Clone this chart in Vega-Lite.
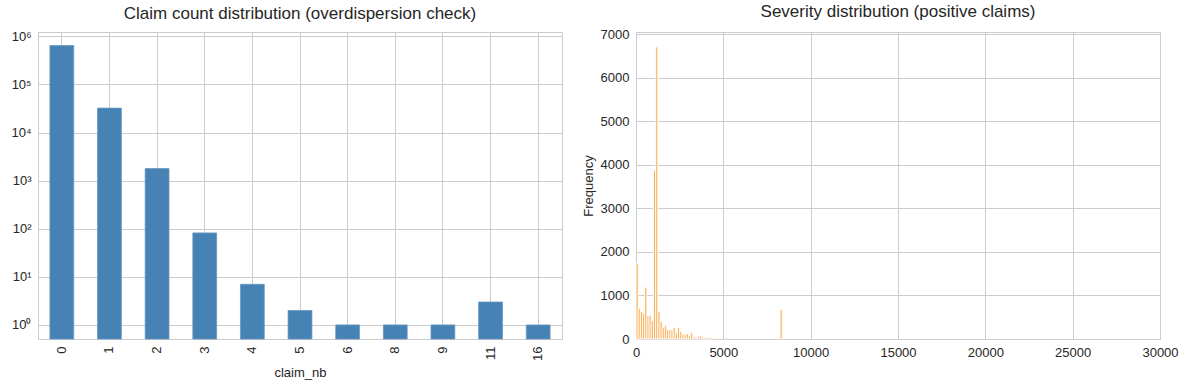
{
  "$schema": "https://vega.github.io/schema/vega-lite/v6.json",
  "background": "white",
  "padding": {"left": 10, "top": 2, "right": 5, "bottom": 5},
  "config": {
    "font": "Liberation Sans",
    "view": {"stroke": "#cccccc", "strokeWidth": 1},
    "axis": {
      "domain": false,
      "ticks": false,
      "grid": true,
      "gridColor": "#cccccc",
      "gridWidth": 1,
      "labelFont": "Liberation Sans",
      "labelFontSize": 13,
      "labelColor": "#262626",
      "titleFont": "Liberation Sans",
      "titleFontSize": 13,
      "titleFontWeight": "normal",
      "titleColor": "#262626",
      "labelPadding": 7,
      "labelFlush": false,
      "labelOverlap": false
    },
    "title": {"font": "Liberation Sans", "fontSize": 17, "fontWeight": "normal", "color": "#262626", "offset": 7},
    "concat": {"spacing": 18}
  },
  "datasets": {
    "counts": [
      {"claim_nb": 0, "count": 643953},
      {"claim_nb": 1, "count": 32178},
      {"claim_nb": 2, "count": 1784},
      {"claim_nb": 3, "count": 82},
      {"claim_nb": 4, "count": 7},
      {"claim_nb": 5, "count": 2},
      {"claim_nb": 6, "count": 1},
      {"claim_nb": 8, "count": 1},
      {"claim_nb": 9, "count": 1},
      {"claim_nb": 11, "count": 3},
      {"claim_nb": 16, "count": 1}
    ],
    "sev": [
      {"bin_start": 0, "bin_end": 125, "count": 1735},
      {"bin_start": 125, "bin_end": 250, "count": 706},
      {"bin_start": 250, "bin_end": 375, "count": 630},
      {"bin_start": 375, "bin_end": 500, "count": 583},
      {"bin_start": 500, "bin_end": 625, "count": 1190},
      {"bin_start": 625, "bin_end": 750, "count": 537},
      {"bin_start": 750, "bin_end": 875, "count": 537},
      {"bin_start": 875, "bin_end": 1000, "count": 422},
      {"bin_start": 1000, "bin_end": 1125, "count": 3880},
      {"bin_start": 1125, "bin_end": 1250, "count": 6705},
      {"bin_start": 1250, "bin_end": 1375, "count": 630},
      {"bin_start": 1375, "bin_end": 1500, "count": 400},
      {"bin_start": 1500, "bin_end": 1625, "count": 261},
      {"bin_start": 1625, "bin_end": 1750, "count": 307},
      {"bin_start": 1750, "bin_end": 1875, "count": 215},
      {"bin_start": 1875, "bin_end": 2000, "count": 215},
      {"bin_start": 2000, "bin_end": 2125, "count": 215},
      {"bin_start": 2125, "bin_end": 2250, "count": 261},
      {"bin_start": 2250, "bin_end": 2375, "count": 146},
      {"bin_start": 2375, "bin_end": 2500, "count": 261},
      {"bin_start": 2500, "bin_end": 2625, "count": 169},
      {"bin_start": 2625, "bin_end": 2750, "count": 100},
      {"bin_start": 2750, "bin_end": 2875, "count": 100},
      {"bin_start": 2875, "bin_end": 3000, "count": 123},
      {"bin_start": 3000, "bin_end": 3125, "count": 77},
      {"bin_start": 3125, "bin_end": 3250, "count": 146},
      {"bin_start": 3250, "bin_end": 3375, "count": 54},
      {"bin_start": 3375, "bin_end": 3500, "count": 40},
      {"bin_start": 3500, "bin_end": 3625, "count": 54},
      {"bin_start": 3625, "bin_end": 3750, "count": 77},
      {"bin_start": 3750, "bin_end": 3875, "count": 40},
      {"bin_start": 3875, "bin_end": 4000, "count": 31},
      {"bin_start": 4000, "bin_end": 4125, "count": 31},
      {"bin_start": 4125, "bin_end": 4250, "count": 31},
      {"bin_start": 4250, "bin_end": 4375, "count": 31},
      {"bin_start": 4500, "bin_end": 4625, "count": 20},
      {"bin_start": 5125, "bin_end": 5250, "count": 30},
      {"bin_start": 8250, "bin_end": 8375, "count": 675}
    ]
  },
  "hconcat": [
    {
      "title": "Claim count distribution (overdispersion check)",
      "width": 524,
      "height": 307,
      "data": {"name": "counts"},
      "mark": {"type": "bar", "color": "#4682b4", "stroke": "#6a98c2", "strokeWidth": 0.8},
      "encoding": {
        "x": {
          "field": "claim_nb",
          "type": "ordinal",
          "sort": "ascending",
          "scale": {"paddingInner": 0.5, "paddingOuter": 0.25},
          "axis": {"labelAngle": -90, "title": "claim_nb", "bandPosition": 0.5, "grid": true, "titlePadding": 6}
        },
        "y": {
          "field": "count",
          "type": "quantitative",
          "scale": {"type": "log", "domain": [0.51, 1230000], "nice": false},
          "axis": {
            "title": null,
            "values": [1, 10, 100, 1000, 10000, 100000, 1000000],
            "labelExpr": "'10' + ['⁰','¹','²','³','⁴','⁵','⁶'][round(log(datum.value)/LN10)]"
          }
        },
        "y2": {"datum": 0.51}
      }
    },
    {
      "title": "Severity distribution (positive claims)",
      "width": 524,
      "height": 307,
      "data": {"name": "sev"},
      "mark": {"type": "bar", "color": "#fbb462", "stroke": "white", "strokeWidth": 0.9},
      "encoding": {
        "x": {
          "field": "bin_start",
          "type": "quantitative",
          "scale": {"domain": [0, 30000], "nice": false},
          "axis": {"title": null, "values": [0, 5000, 10000, 15000, 20000, 25000, 30000], "format": "d"}
        },
        "x2": {"field": "bin_end"},
        "y": {
          "field": "count",
          "type": "quantitative",
          "scale": {"domain": [0, 7050], "nice": false},
          "axis": {"title": "Frequency", "values": [0, 1000, 2000, 3000, 4000, 5000, 6000, 7000], "format": "d", "titlePadding": 5}
        },
        "y2": {"datum": 0}
      }
    }
  ]
}
